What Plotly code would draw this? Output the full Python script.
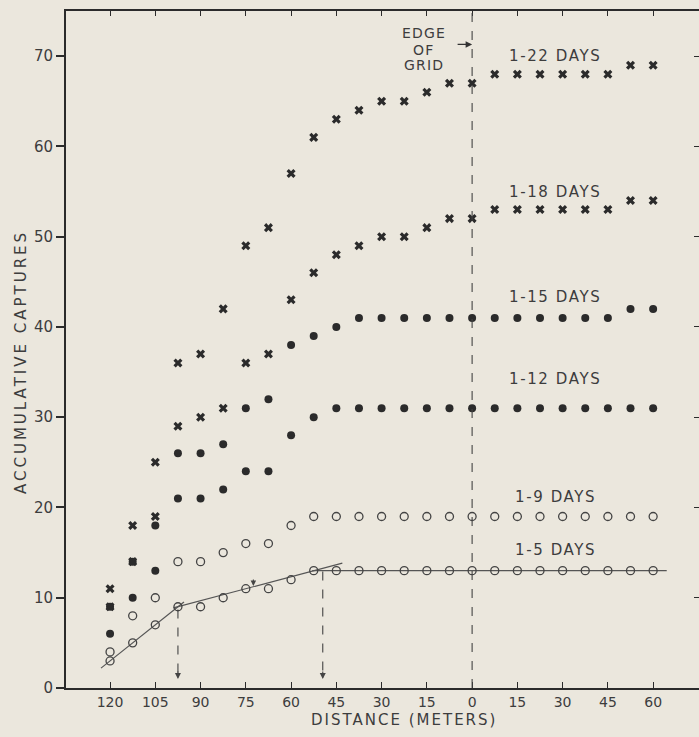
import plotly.graph_objects as go

# Station positions (m); negative = outside grid (left), labels shown as absolute distance
distance = [-120, -112.5, -105, -97.5, -90, -82.5, -75, -67.5, -60, -52.5, -45, -37.5,
            -30, -22.5, -15, -7.5, 0, 7.5, 15, 22.5, 30, 37.5, 45, 52.5, 60]

days_1_22 = [11, 18, 25, 36, 37, 42, 49, 51, 57, 61, 63, 64, 65, 65, 66, 67, 67,
             68, 68, 68, 68, 68, 68, 69, 69]
days_1_18 = [9, 14, 19, 29, 30, 31, 36, 37, 43, 46, 48, 49, 50, 50, 51, 52, 52,
             53, 53, 53, 53, 53, 53, 54, 54]
days_1_15 = [9, 14, 18, 26, 26, 27, 31, 32, 38, 39, 40, 41, 41, 41, 41, 41, 41,
             41, 41, 41, 41, 41, 41, 42, 42]
days_1_12 = [6, 10, 13, 21, 21, 22, 24, 24, 28, 30, 31, 31, 31, 31, 31, 31, 31,
             31, 31, 31, 31, 31, 31, 31, 31]
days_1_9 = [4, 8, 10, 14, 14, 15, 16, 16, 18, 19, 19, 19, 19, 19, 19, 19, 19,
            19, 19, 19, 19, 19, 19, 19, 19]
days_1_5 = [3, 5, 7, 9, 9, 10, 11, 11, 12, 13, 13, 13, 13, 13, 13, 13, 13,
            13, 13, 13, 13, 13, 13, 13, 13]

# fitted line segments for 1-5 days
fit1_x = [-123, -95.5]
fit1_y = [2.2, 9.53]
fit2_x = [-99, -43]
fit2_y = [8.87, 13.84]
fit3_x = [-53, 64.5]
fit3_y = [13, 13]

x_tick_vals = [-120, -105, -90, -75, -60, -45, -30, -15, 0, 15, 30, 45, 60]
x_tick_text = ["120", "105", "90", "75", "60", "45", "30", "15", "0", "15", "30", "45", "60"]
y_tick_vals = [0, 10, 20, 30, 40, 50, 60, 70]

# breakpoints (m) marked by dashed arrows
break_x = [-97.5, -49.5]
break_y = [8.7, 12.9]

series_labels = ["1-22 DAYS", "1-18 DAYS", "1-15 DAYS", "1-12 DAYS", "1-9 DAYS", "1-5 DAYS"]
label_y = [70.0, 54.9, 43.3, 34.2, 21.2, 15.3]

BG = "#ebe7dd"
INK = "#2b2b2b"
TXT = "#3d3d3d"
FONT = "DejaVu Sans"

fig = go.Figure()

for fx, fy in [(fit1_x, fit1_y), (fit2_x, fit2_y), (fit3_x, fit3_y)]:
    fig.add_trace(go.Scatter(x=fx, y=fy, mode="lines",
                             line=dict(color="#555", width=1.2), hoverinfo="skip"))

fig.add_trace(go.Scatter(x=distance, y=days_1_5, mode="markers",
                         marker=dict(symbol="circle-open", size=8, color="#444",
                                     line=dict(width=1.3))))
fig.add_trace(go.Scatter(x=distance, y=days_1_9, mode="markers",
                         marker=dict(symbol="circle-open", size=8, color="#444",
                                     line=dict(width=1.3))))
fig.add_trace(go.Scatter(x=distance, y=days_1_12, mode="markers",
                         marker=dict(symbol="circle", size=8, color=INK)))
fig.add_trace(go.Scatter(x=distance, y=days_1_15, mode="markers",
                         marker=dict(symbol="circle", size=8, color=INK)))
fig.add_trace(go.Scatter(x=distance, y=days_1_18, mode="markers",
                         marker=dict(symbol="x", size=8, color=INK)))
fig.add_trace(go.Scatter(x=distance, y=days_1_22, mode="markers",
                         marker=dict(symbol="x", size=8, color=INK)))
# invisible trace to activate the mirrored axes
fig.add_trace(go.Scatter(x=[None], y=[None], xaxis="x2", yaxis="y2", mode="markers",
                         showlegend=False, hoverinfo="skip"))

shapes = [dict(type="line", xref="x", yref="paper", x0=0, x1=0, y0=0, y1=1,
               line=dict(color="#444", width=1.1, dash="dash"))]
for bx, by in zip(break_x, break_y):
    shapes.append(dict(type="line", xref="x", yref="y", x0=bx, x1=bx, y0=by, y1=1.6,
                       line=dict(color="#444", width=1.1, dash="dash")))

annotations = []
for bx in break_x:
    annotations.append(dict(x=bx, y=1.0, xref="x", yref="y", showarrow=True,
                            ax=0, ay=-9, arrowhead=2, arrowsize=1.1, arrowwidth=1.1,
                            arrowcolor="#444", text=""))
annotations.append(dict(x=-72.5, y=11.3, xref="x", yref="y", showarrow=True,
                        ax=0, ay=-8, arrowhead=2, arrowsize=1, arrowwidth=1.1,
                        arrowcolor="#444", text=""))

for lab, ly in zip(series_labels, label_y):
    annotations.append(dict(x=27.5, y=ly, xref="x", yref="y", showarrow=False,
                            text="<span style='letter-spacing:1.6px'>" + lab + "</span>",
                            font=dict(family=FONT, size=15, color=TXT)))

for word, wy in [("EDGE", 72.6), ("OF", 70.7), ("GRID", 69.0)]:
    annotations.append(dict(x=-16, y=wy, xref="x", yref="y", showarrow=False,
                            text="<span style='letter-spacing:1.2px'>" + word + "</span>",
                            font=dict(family=FONT, size=14, color=TXT)))
annotations.append(dict(x=0, y=71.3, xref="x", yref="y", showarrow=True,
                        ax=-16, ay=0, arrowhead=2, arrowsize=1, arrowwidth=1.3,
                        arrowcolor="#333", text=""))

W, H = 699, 737
L, R, T, B = 66, 0, 11, 49
pw, ph = W - L - R, H - T - B

# axis titles placed by pixel centre (from top-left)
annotations.append(dict(x=(404 - L) / pw, y=(H - 720 - B) / ph, xref="paper", yref="paper",
                        xanchor="center", yanchor="middle", showarrow=False,
                        text="<span style='letter-spacing:2px'>DISTANCE (METERS)</span>",
                        font=dict(family=FONT, size=15, color=TXT)))
annotations.append(dict(x=(21 - L) / pw, y=(H - 362 - B) / ph, xref="paper", yref="paper",
                        xanchor="center", yanchor="middle", showarrow=False,
                        textangle=-90,
                        text="<span style='letter-spacing:3px'>ACCUMULATIVE CAPTURES</span>",
                        font=dict(family=FONT, size=15, color=TXT)))

axis_common = dict(showgrid=False, zeroline=False, linecolor=INK, tickcolor=INK)

fig.update_layout(
    width=W, height=H,
    margin=dict(l=L, r=R, t=T, b=B),
    paper_bgcolor=BG, plot_bgcolor=BG,
    showlegend=False,
    shapes=shapes,
    annotations=annotations,
    xaxis=dict(range=[-134.6, 75.2], tickvals=x_tick_vals, ticktext=x_tick_text,
               ticks="inside", ticklen=6, tickwidth=1.3, showline=True, linewidth=2,
               tickfont=dict(family=FONT, size=14, color=TXT), **axis_common),
    yaxis=dict(range=[0, 75], tickvals=y_tick_vals, ticks="outside", ticklen=8,
               tickwidth=1.5, showline=True, linewidth=2,
               tickfont=dict(family=FONT, size=15, color=TXT), **axis_common),
    xaxis2=dict(overlaying="x", side="top", anchor="y", range=[-134.6, 75.2],
                tickvals=x_tick_vals, ticks="inside", ticklen=5, tickwidth=1.3,
                showticklabels=False, showline=True, linewidth=2, **axis_common),
    yaxis2=dict(overlaying="y", side="right", anchor="x", range=[0, 75],
                tickvals=y_tick_vals, ticks="inside", ticklen=5, tickwidth=1.3,
                showticklabels=False, showline=False, **axis_common),
)

fig.write_html("out.html",
               config={"displayModeBar": False},
               post_script="document.body.style.margin='0';"
                           "document.body.style.background='" + BG + "';"
                           "document.body.style.overflow='hidden';")
